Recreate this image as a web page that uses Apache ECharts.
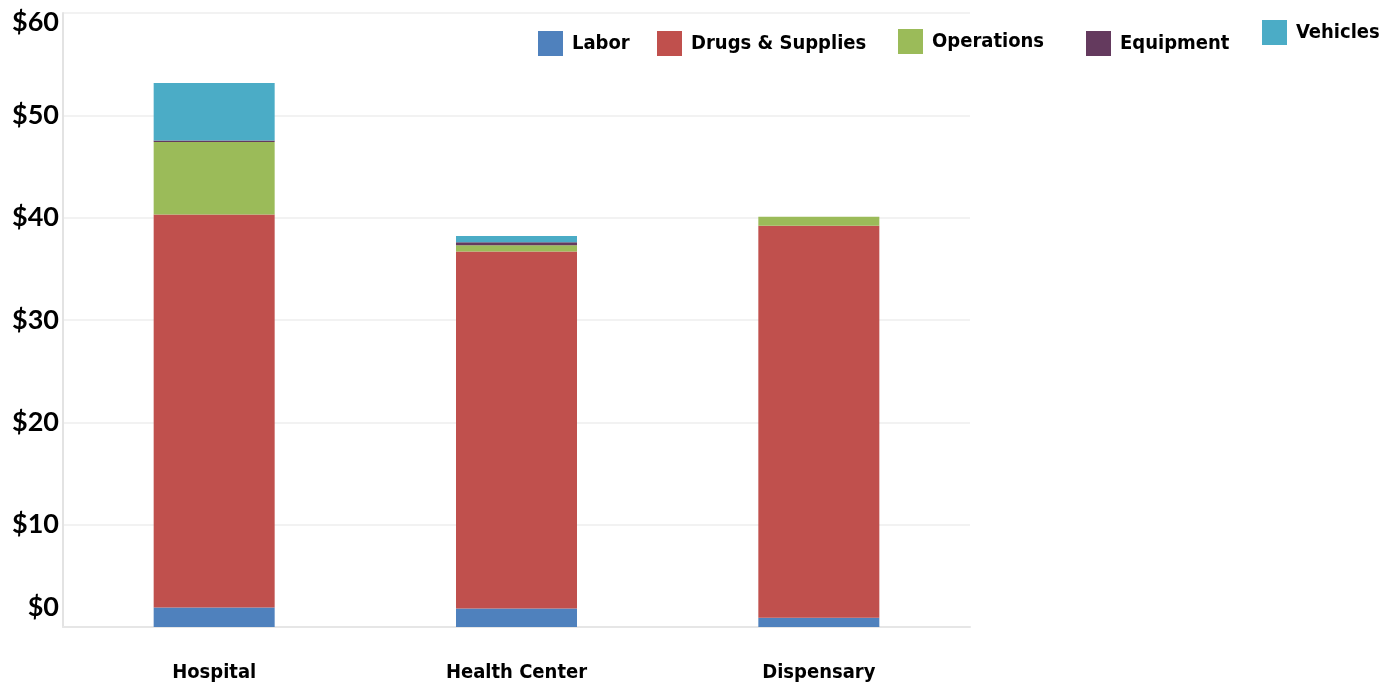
<!DOCTYPE html>
<html><head><meta charset="utf-8">
<script src="https://cdn.jsdelivr.net/npm/echarts@6/dist/echarts.min.js"></script>
<style>html,body{margin:0;padding:0;background:#fff}#c{width:1379px;height:688px}</style>
</head><body><div id="c"></div>
<script>
const categories = ['Hospital', 'Health Center', 'Dispensary'];
const seriesNames = ['Labor', 'Drugs & Supplies', 'Operations', 'Equipment', 'Vehicles'];
const labor = [1.9, 1.8, 0.9];
const drugs = [38.4, 34.9, 38.3];
const operations = [7.1, 0.6, 0.9];
const equipment = [0.15, 0.3, 0];
const vehicles = [5.6, 0.6, 0];
const yTicks = [0, 10, 20, 30, 40, 50, 60];
const colors = ['#4f81bd', '#c0504d', '#9bbb59', '#643a5e', '#4bacc6'];

const values = [labor, drugs, operations, equipment, vehicles];
const legendPos = [
  {left: 538, top: 31}, {left: 657, top: 31}, {left: 898, top: 29},
  {left: 1086, top: 31}, {left: 1262, top: 20}
];
const condFont = 'DejaVu Sans Condensed';
const legendFont = {fontFamily: condFont, fontWeight: 'bold', fontSize: 20, color: '#000', padding: [3, 0, 0, 4]};

const chart = echarts.init(document.getElementById('c'));
chart.setOption({
  animation: false,
  color: colors,
  grid: {left: 63, right: 409, top: 13, bottom: 61},
  legend: seriesNames.map((n, i) => ({
    data: [n], left: legendPos[i].left, top: legendPos[i].top,
    icon: 'rect', itemWidth: 25, itemHeight: 25, padding: 0,
    textStyle: legendFont
  })),
  xAxis: {
    type: 'category', data: categories,
    axisLine: {lineStyle: {color: '#e6e6e6', width: 2}},
    axisTick: {show: false},
    axisLabel: {margin: 36, fontFamily: condFont, fontWeight: 'bold', fontSize: 20, color: '#000'}
  },
  yAxis: {
    type: 'value', min: 0, max: 60, interval: 10,
    axisLine: {show: true, lineStyle: {color: '#e3e3e3', width: 2}},
    axisTick: {show: false},
    splitLine: {lineStyle: {color: '#eeeeee', width: 1.5}},
    axisLabel: {
      margin: 4, color: '#000',
      fontFamily: 'Lato', fontWeight: 'bold', fontSize: 27,
      formatter: v => {
        if (v === yTicks[0]) return '{z|$' + v + '}';
        if (v === yTicks[yTicks.length - 1]) return '{t|$' + v + '}';
        return '$' + v;
      },
      rich: {
        z: {fontFamily: 'Lato', fontWeight: 'bold', fontSize: 27, color: '#000', padding: [0, 0, 40, 0]},
        t: {fontFamily: 'Lato', fontWeight: 'bold', fontSize: 27, color: '#000', padding: [18, 0, 0, 0]}
      }
    }
  },
  series: seriesNames.map((n, i) => ({
    name: n, type: 'bar', stack: 'total', barWidth: 121,
    data: values[i]
  }))
});
</script></body></html>
